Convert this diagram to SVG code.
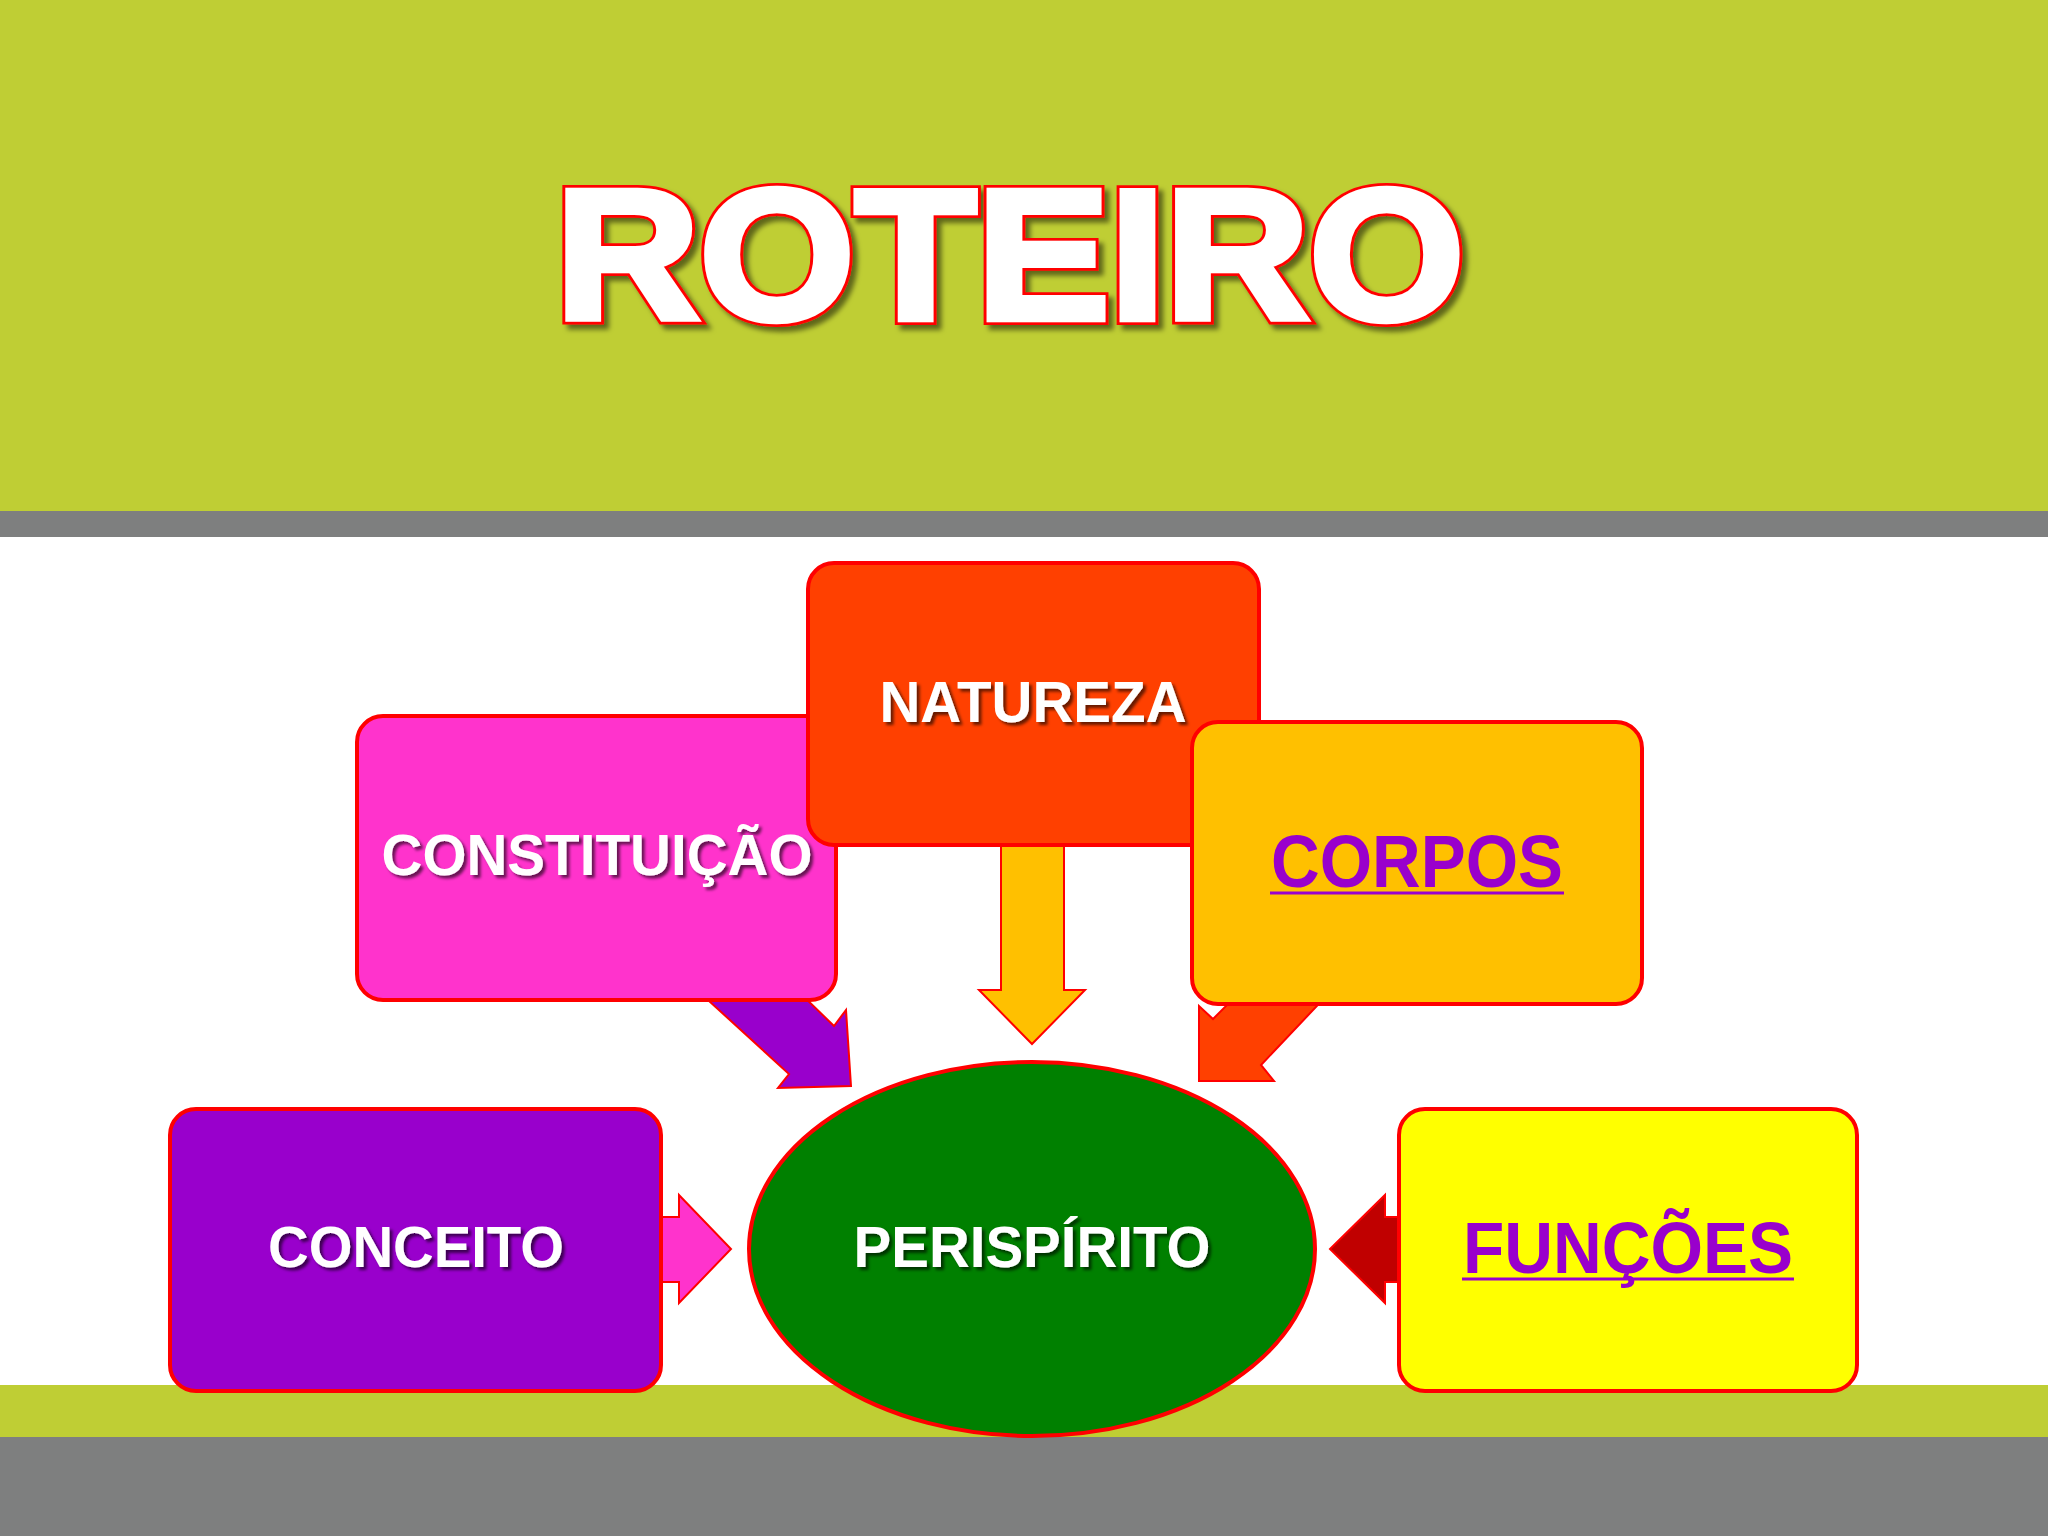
<svg xmlns="http://www.w3.org/2000/svg" width="2048" height="1536" viewBox="0 0 2048 1536">
<defs>
<filter id="ts" x="-10%" y="-20%" width="130%" height="150%"><feDropShadow dx="5" dy="5" stdDeviation="2.5" flood-color="#000" flood-opacity="0.5"/></filter>
<filter id="ts2" x="-10%" y="-20%" width="130%" height="150%"><feDropShadow dx="3" dy="3" stdDeviation="1.5" flood-color="#000" flood-opacity="0.6"/></filter>
</defs>
<style>
.box{stroke:#FF0000;stroke-width:4}
.arr{stroke:#FF0000;stroke-width:2;stroke-linejoin:miter}
.lbl{font-family:"Liberation Sans",Arial,sans-serif;font-weight:bold;text-anchor:middle}
.w{fill:#FFFFFF;filter:url(#ts2)}
.p{fill:#9900CC}
.ul{stroke:#9900CC;stroke-width:3}
.title{font-family:"Liberation Sans",Arial,sans-serif;font-weight:bold;text-anchor:middle;font-size:185px;stroke-linejoin:miter}
</style>
<rect x="0" y="0" width="2048" height="511" fill="#BFCE34"/>
<rect x="0" y="511" width="2048" height="26" fill="#7E7F7F"/>
<rect x="0" y="537" width="2048" height="848" fill="#FFFFFF"/>
<rect x="0" y="1385" width="2048" height="52" fill="#BFCE34"/>
<rect x="0" y="1437" width="2048" height="99" fill="#7E7F7F"/>
<g id="title">
<text x="1010" y="319" class="title" fill="#FF0000" stroke="#FF0000" stroke-width="12" textLength="909" lengthAdjust="spacingAndGlyphs" filter="url(#ts)">ROTEIRO</text>
<text x="1010" y="319" class="title" fill="#FFFFFF" stroke="#FFFFFF" stroke-width="6.5" textLength="909" lengthAdjust="spacingAndGlyphs">ROTEIRO</text>
</g>
<g id="connectors">
<polygon class="arr" fill="#9900CC" points="697,990 797,990 834,1026 846,1010 851,1086 778,1088 789,1074"/>
<polygon class="arr" fill="#FFC000" points="1001,840 1064,840 1064,990 1085,990 1032,1044 979,990 1001,990"/>
<polygon class="arr" fill="#FF4000" points="1242,990 1332,990 1261,1065 1274,1081 1199,1081 1199,1006 1213,1019"/>
<polygon class="arr" fill="#FF33CC" points="655,1217 679,1217 679,1195 731,1249 679,1303 679,1282 655,1282"/>
<polygon class="arr" fill="#C00000" points="1405,1217 1385,1217 1385,1195 1330,1249 1385,1303 1385,1282 1405,1282"/>
</g>
<g id="constituicao">
<rect class="box" x="357" y="716" width="479" height="284" rx="26" fill="#FF33CC"/>
<text x="597" y="875" class="lbl w" font-size="58" textLength="431" lengthAdjust="spacingAndGlyphs">CONSTITUIÇÃO</text>
</g>
<g id="natureza">
<rect class="box" x="808" y="563" width="451" height="282" rx="26" fill="#FF4000"/>
<text x="1033" y="722" class="lbl w" font-size="58" textLength="307" lengthAdjust="spacingAndGlyphs">NATUREZA</text>
</g>
<g id="corpos">
<rect class="box" x="1192" y="722" width="450" height="282" rx="26" fill="#FFC000"/>
<text x="1417" y="887" class="lbl p" font-size="74" textLength="292" lengthAdjust="spacingAndGlyphs">CORPOS</text>
<line class="ul" x1="1270" y1="893" x2="1564" y2="893"/>
</g>
<g id="conceito">
<rect class="box" x="170" y="1109" width="491" height="282" rx="26" fill="#9900CC"/>
<text x="416" y="1267" class="lbl w" font-size="58" textLength="296" lengthAdjust="spacingAndGlyphs">CONCEITO</text>
</g>
<g id="funcoes">
<rect class="box" x="1399" y="1109" width="458" height="282" rx="26" fill="#FFFF00"/>
<text x="1628" y="1273" class="lbl p" font-size="72" textLength="330" lengthAdjust="spacingAndGlyphs">FUNÇÕES</text>
<line class="ul" x1="1462" y1="1279" x2="1794" y2="1279"/>
</g>
<g id="perispirito">
<ellipse class="box" cx="1032" cy="1249" rx="283" ry="187" fill="#008000"/>
<text x="1032" y="1267" class="lbl w" font-size="58" textLength="357" lengthAdjust="spacingAndGlyphs">PERISPÍRITO</text>
</g>
</svg>
